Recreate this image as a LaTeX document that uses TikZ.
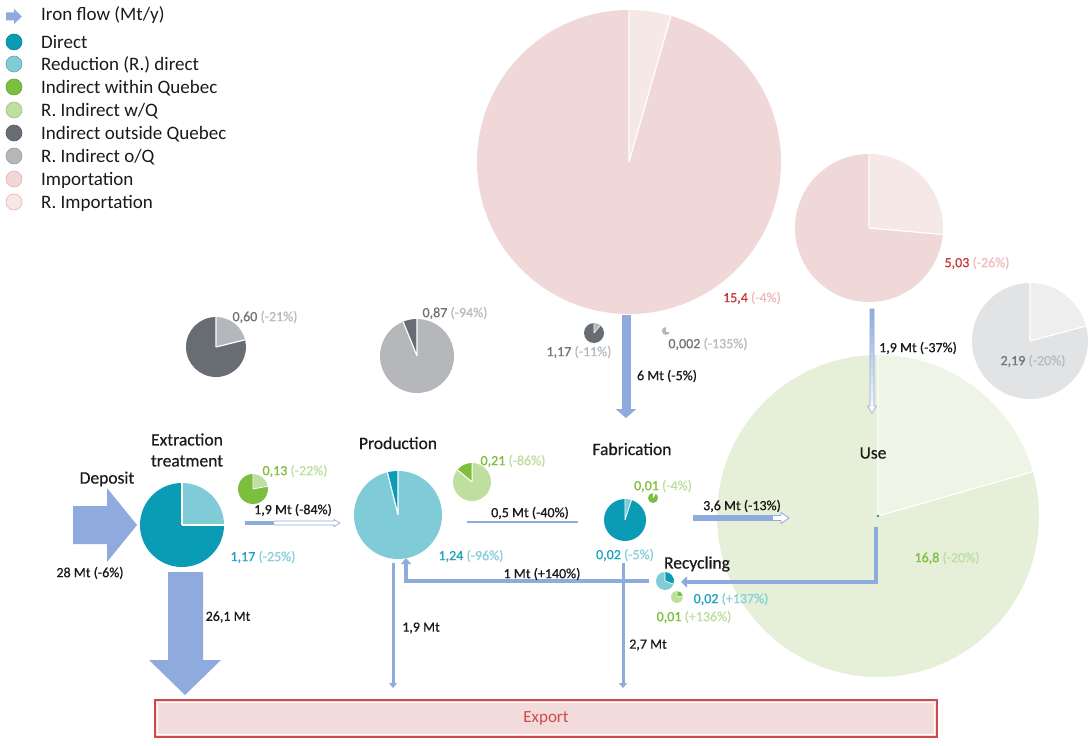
\documentclass[tikz,border=0pt]{standalone}
\usepackage{fontspec}
\setmainfont{Carlito}
\newfontfamily\semib{Carlito}[FakeBold=0.7]
\newfontfamily\labf{Carlito}[FakeBold=0.4]
\usetikzlibrary{arrows.meta}
\definecolor{flow}{HTML}{8FAADC}
\definecolor{dteal}{HTML}{0A9BB5}
\definecolor{lteal}{HTML}{7FCCD8}
\definecolor{dgreen}{HTML}{7CBF3F}
\definecolor{lgreen}{HTML}{BFDFA0}
\definecolor{dgrey}{HTML}{686D74}
\definecolor{lgrey}{HTML}{B5B7BA}
\definecolor{imp}{HTML}{F0D8D8}
\definecolor{rimp}{HTML}{F7E8E8}
\definecolor{usegreen}{HTML}{E6F0D9}
\definecolor{useltgreen}{HTML}{EEF5E7}
\definecolor{pgrey}{HTML}{E2E3E5}
\definecolor{plgrey}{HTML}{EEEEEF}
\definecolor{numred}{HTML}{C8383A}
\definecolor{numpink}{HTML}{F2B9B9}
\definecolor{numteal}{HTML}{1DA2C0}
\definecolor{numlteal}{HTML}{86CFDB}
\definecolor{numgreen}{HTML}{7DBE3C}
\definecolor{numlgreen}{HTML}{BEDE9E}
\definecolor{numgrey}{HTML}{6E7378}
\definecolor{numlgrey}{HTML}{B8BABD}
\definecolor{expfill}{HTML}{F2DCDB}
\definecolor{expred}{HTML}{D0494A}
\definecolor{txt}{HTML}{1A1A1A}
% pie: center, radius, a, b, colour of slice a->b, colour of rest, separator width
\newcommand\mypie[7]{%
  \fill[#5] #1 -- ++(#3:#2) arc[start angle=#3,end angle=#4,radius=#2] -- cycle;
  \fill[#6] #1 -- ++(#4:#2) arc[start angle=#4,end angle=#3+360,radius=#2] -- cycle;
  \draw[white,line width=#7] #1 -- ++(#3:#2) #1 -- ++(#4:#2);}
\tikzset{
  lab/.style={font=\labf\fontsize{17.5}{20}\selectfont, inner sep=0pt, text=txt},
  num/.style={font=\semib\fontsize{14}{16}\selectfont, inner sep=0pt, text=txt},
  leg/.style={font=\fontsize{19}{22}\selectfont, anchor=west, inner sep=0pt, text=txt},
  legdot/.style={line width=0.6pt},
  flowline/.style={draw=flow, line width=4pt},
}
\begin{document}
\begin{tikzpicture}[x=1pt,y=1pt]
\useasboundingbox (0,0) rectangle (1091,-746);
\fill[white] (0,0) rectangle (1091,-746);

% ---------- pie centres ----------
\coordinate (impF) at (629,-162);
\coordinate (impU) at (869,-228);
\coordinate (greyU) at (1030,-341);
\coordinate (use) at (878,-516);
\coordinate (g060) at (216,-347);
\coordinate (g087) at (417,-356);
\coordinate (ext) at (182,-525);
\coordinate (p013) at (253,-489);
\coordinate (prod) at (398,-515);
\coordinate (p021) at (472,-482);
\coordinate (fab) at (625,-520);
\coordinate (p001) at (653,-498);
\coordinate (g117) at (594,-333);
\coordinate (g0002) at (666,-331);
\coordinate (recT) at (665,-581);
\coordinate (recG) at (677,-597);

% ---------- big background pies ----------
\mypie{(impF)}{152pt}{74}{90}{rimp}{imp}{1.2pt}
\mypie{(impU)}{74pt}{-5}{90}{rimp}{imp}{1.2pt}
\mypie{(greyU)}{58pt}{15}{90}{plgrey}{pgrey}{1.2pt}
\mypie{(use)}{161pt}{16}{90}{useltgreen}{usegreen}{1.2pt}
\fill[dteal] (use) circle[radius=1.3pt];

% ---------- legend ----------
\fill[flow] (6,-12.5) -- (14,-12.5) -- (14,-9) -- (22,-16.5) -- (14,-24) -- (14,-20.5) -- (6,-20.5) -- cycle;
\node[leg] (l0) at (41,-15) {Iron flow (Mt/y)};
\filldraw[legdot, fill=dteal, draw=dteal!85!black] (14,-42) circle[radius=8pt];
\node[leg] (l1) at (41,-42) {Direct};
\filldraw[legdot, fill=lteal, draw=lteal!80!black] (14,-64) circle[radius=8pt];
\node[leg] (l2) at (41,-65) {Reduction (R.) direct};
\filldraw[legdot, fill=dgreen, draw=dgreen!85!black] (14,-87) circle[radius=8pt];
\node[leg] (l3) at (41,-88) {Indirect within Quebec};
\filldraw[legdot, fill=lgreen, draw=lgreen!85!black] (14,-110) circle[radius=8pt];
\node[leg] (l4) at (41,-111) {R. Indirect w/Q};
\filldraw[legdot, fill=dgrey, draw=dgrey!85!black] (14,-133) circle[radius=8pt];
\node[leg] (l5) at (41,-134) {Indirect outside Quebec};
\filldraw[legdot, fill=lgrey, draw=lgrey!85!black] (14,-156) circle[radius=8pt];
\node[leg] (l6) at (41,-157) {R. Indirect o/Q};
\filldraw[legdot, fill=imp, draw=imp!80!red] (14,-179) circle[radius=8pt];
\node[leg] (l7) at (41,-180) {Importation};
\filldraw[legdot, fill=rimp, draw=imp!80!red] (14,-202) circle[radius=8pt];
\node[leg] (l8) at (41,-203) {R. Importation};

% ---------- small pies ----------
\mypie{(g060)}{30pt}{14}{90}{lgrey}{dgrey}{1.2pt}
\mypie{(g087)}{37pt}{90}{112}{dgrey}{lgrey}{1.2pt}
\mypie{(ext)}{42pt}{0}{90}{lteal}{dteal}{1.2pt}
\mypie{(p013)}{15pt}{11}{90}{lgreen}{dgreen}{0.8pt}
\mypie{(prod)}{44pt}{90}{104}{dteal}{lteal}{1.2pt}
\mypie{(p021)}{19pt}{90}{140}{dgreen}{lgreen}{1pt}
\mypie{(fab)}{21pt}{72}{90}{lteal}{dteal}{0.8pt}
\mypie{(p001)}{5pt}{60}{90}{white}{dgreen}{0.5pt}
\mypie{(g117)}{10pt}{50}{90}{lgrey}{dgrey}{0.6pt}
\mypie{(g0002)}{4pt}{0}{90}{white}{lgrey}{0.4pt}
\mypie{(recT)}{9pt}{-20}{90}{dteal}{lteal}{0.6pt}
\mypie{(recG)}{6pt}{10}{90}{dgreen}{lgreen}{0.5pt}

% ---------- export box ----------
\node[draw=expred, fill=expfill, line width=1.2pt, minimum width=782pt, minimum height=37pt, inner sep=0pt,
      font=\fontsize{17}{20}\selectfont, text=expred] (export) at (546,-718.5) {Export};
\draw[white, line width=0.6pt] (157.5,-702.5) rectangle (934.5,-734.5);

% ---------- block arrows ----------
\fill[flow] (73,-506) -- (107,-506) -- (107,-488) -- (137,-525) -- (107,-562) -- (107,-544) -- (73,-544) -- cycle;
\fill[flow] (168,-572) -- (203,-572) -- (203,-660) -- (221,-660) -- (185,-695) -- (149,-660) -- (168,-660) -- cycle;

% ---------- flow connectors ----------
\coordinate (impout) at (626,-315);
\coordinate (fabin) at (626,-418);
\draw[draw=flow, line width=9pt, -{Triangle[width=20pt,length=9pt]}] (impout) -- (fabin);

% extraction -> production (partly hollow)
\fill[flow] (245,-521) rectangle (274,-525);
\draw[flow, fill=white, line width=0.7pt] (274,-521) -- (334,-521) -- (334,-519.5) -- (340,-523) -- (334,-526.5) -- (334,-525) -- (274,-525);

% production -> fabrication
\coordinate (pf1) at (467,-522);
\coordinate (pf2) at (578,-522);
\draw[flow, line width=2pt] (pf1) -- (pf2);

% fabrication -> use
\fill[flow] (693,-515) rectangle (775,-521);
\draw[flow, fill=white, line width=0.8pt] (773,-515.5) -- (781,-515.5) -- (781,-512.5) -- (789,-518) -- (781,-523.5) -- (781,-520.5) -- (773,-520.5);

% import -> use (fading)
\shade[top color=flow, bottom color=white, draw=flow, line width=0.6pt]
  (870,-309) -- (874,-309) -- (874,-406) -- (876.5,-406) -- (872,-413) -- (867.5,-406) -- (870,-406) -- cycle;

% use -> recycling
\coordinate (useout) at (876,-527);
\coordinate (ucorner) at (876,-582);
\coordinate (recin) at (681,-582);
\draw[flowline, -{Triangle[width=11pt,length=6pt]}] (useout) -- (ucorner) -- (recin);

% recycling -> production
\coordinate (recout) at (649,-581);
\coordinate (pcorner) at (406,-581);
\coordinate (prodin) at (406,-558);
\draw[flowline, -{Triangle[width=10pt,length=6pt]}] (recout) -- (pcorner) -- (prodin);

% exports
\coordinate (prodout) at (393,-563);
\coordinate (exp1) at (393,-688);
\draw[flow, line width=3pt, -{Triangle[width=8pt,length=5pt]}] (prodout) -- (exp1);
\coordinate (fabout) at (623,-563);
\coordinate (exp2) at (623,-688);
\draw[flow, line width=3pt, -{Triangle[width=8pt,length=5pt]}] (fabout) -- (exp2);

% ---------- labels ----------
\node[lab] (tdep) at (107,-479) {Deposit};
\node[lab, align=center, font=\labf\fontsize{17.5}{21}\selectfont] (text) at (187,-450) {Extraction\\treatment};
\node[lab] (tprod) at (398,-443) {Production};
\node[lab] (tfab) at (632,-449) {Fabrication};
\node[lab] (trec) at (697,-564) {Recycling};
\node[lab] (tuse) at (873,-453) {Use};

\node[num] (f28) at (90,-573) {28 Mt (-6\%)};
\node[num] (f261) at (228,-617) {26,1 Mt};
\node[num] (f19a) at (293,-510) {1,9 Mt (-84\%)};
\node[num] (f05) at (530,-513) {0,5 Mt (-40\%)};
\node[num] (f1) at (542,-574) {1 Mt (+140\%)};
\node[num] (f19b) at (421,-628) {1,9 Mt};
\node[num] (f27) at (648,-645) {2,7 Mt};
\node[num] (f36) at (742,-506) {3,6 Mt (-13\%)};
\node[num] (f6) at (667,-376) {6 Mt (-5\%)};
\node[num] (f19c) at (918,-348) {1,9 Mt (-37\%)};

\node[num] (n117) at (263,-557) {\textcolor{numteal}{1,17} \textcolor{numlteal}{(-25\%)}};
\node[num] (n013) at (295,-471) {\textcolor{numgreen}{0,13} \textcolor{numlgreen}{(-22\%)}};
\node[num] (n060) at (265,-317) {\textcolor{numgrey}{0,60} \textcolor{numlgrey}{(-21\%)}};
\node[num] (n087) at (455,-313) {\textcolor{numgrey}{0,87} \textcolor{numlgrey}{(-94\%)}};
\node[num] (n021) at (513,-461) {\textcolor{numgreen}{0,21} \textcolor{numlgreen}{(-86\%)}};
\node[num] (n124) at (471,-556) {\textcolor{numteal}{1,24} \textcolor{numlteal}{(-96\%)}};
\node[num] (n001) at (663,-486) {\textcolor{numgreen}{0,01} \textcolor{numlgreen}{(-4\%)}};
\node[num] (n002) at (625,-555) {\textcolor{numteal}{0,02} \textcolor{numlteal}{(-5\%)}};
\node[num] (n002r) at (731,-599) {\textcolor{numteal}{0,02} \textcolor{numlteal}{(+137\%)}};
\node[num] (n001r) at (694,-617) {\textcolor{numgreen}{0,01} \textcolor{numlgreen}{(+136\%)}};
\node[num] (n168) at (947,-558) {\textcolor{numgreen}{16,8} \textcolor{numlgreen}{(-20\%)}};
\node[num] (n219) at (1033,-361) {\textcolor{numgrey}{2,19} \textcolor{numlgrey}{(-20\%)}};
\node[num] (n503) at (977,-263) {\textcolor{numred}{5,03} \textcolor{numpink}{(-26\%)}};
\node[num] (n154) at (752,-298) {\textcolor{numred}{15,4} \textcolor{numpink}{(-4\%)}};
\node[num] (n117g) at (579,-352) {\textcolor{numgrey}{1,17} \textcolor{numlgrey}{(-11\%)}};
\node[num] (n0002) at (708,-344) {\textcolor{numgrey}{0,002} \textcolor{numlgrey}{(-135\%)}};
\end{tikzpicture}
\end{document}
